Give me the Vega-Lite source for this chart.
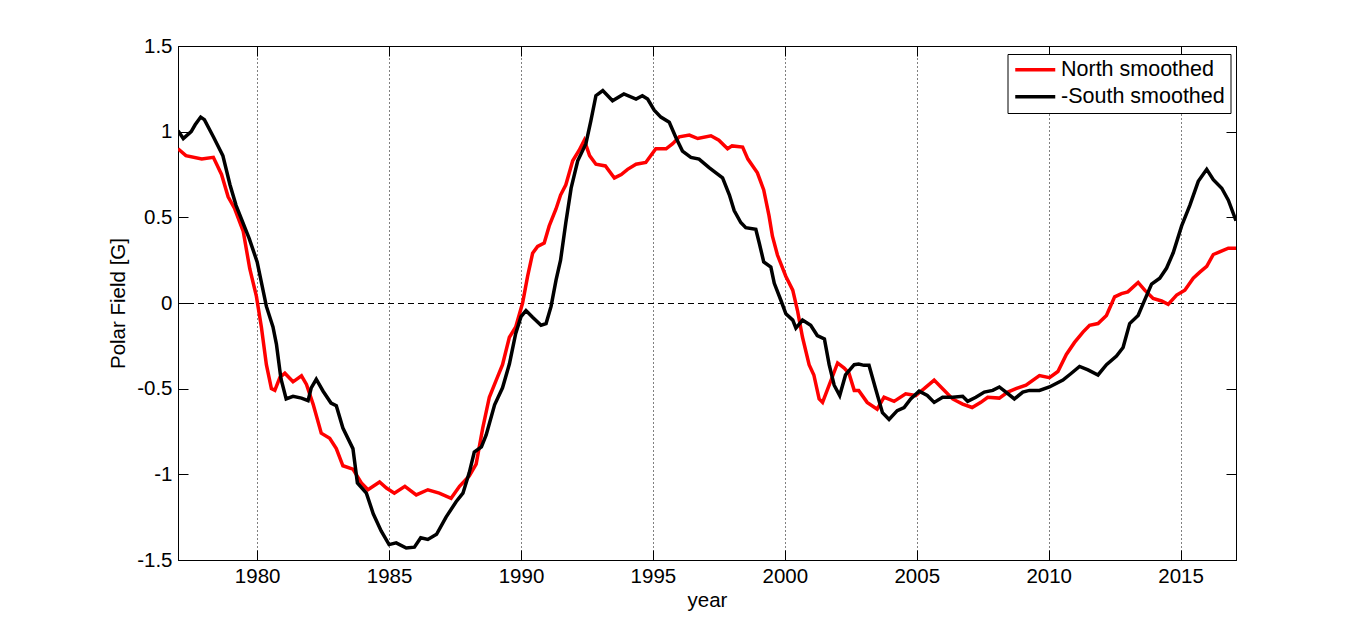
{
  "$schema": "https://vega.github.io/schema/vega-lite/v6.json",
  "width": 1058,
  "height": 514,
  "autosize": {"type": "none"},
  "padding": {"left": 178, "top": 46, "right": 131, "bottom": 69},
  "background": "white",
  "datasets": {
    "north": [
      {"year": 1977.0, "field": 0.90}, {"year": 1977.3, "field": 0.86}, {"year": 1977.9, "field": 0.84},
      {"year": 1978.34, "field": 0.85}, {"year": 1978.65, "field": 0.75}, {"year": 1978.9, "field": 0.62},
      {"year": 1979.15, "field": 0.55}, {"year": 1979.47, "field": 0.42}, {"year": 1979.72, "field": 0.20},
      {"year": 1979.97, "field": 0.04}, {"year": 1980.16, "field": -0.14}, {"year": 1980.35, "field": -0.36},
      {"year": 1980.54, "field": -0.50}, {"year": 1980.67, "field": -0.51}, {"year": 1980.86, "field": -0.435},
      {"year": 1981.05, "field": -0.41}, {"year": 1981.36, "field": -0.46}, {"year": 1981.68, "field": -0.425},
      {"year": 1981.87, "field": -0.475}, {"year": 1982.12, "field": -0.59}, {"year": 1982.43, "field": -0.76},
      {"year": 1982.75, "field": -0.79}, {"year": 1983.0, "field": -0.85}, {"year": 1983.25, "field": -0.95},
      {"year": 1983.63, "field": -0.97}, {"year": 1983.95, "field": -1.05}, {"year": 1984.2, "field": -1.09},
      {"year": 1984.64, "field": -1.045}, {"year": 1984.9, "field": -1.08}, {"year": 1985.2, "field": -1.11},
      {"year": 1985.6, "field": -1.07}, {"year": 1986.03, "field": -1.12}, {"year": 1986.47, "field": -1.09},
      {"year": 1986.9, "field": -1.11}, {"year": 1987.35, "field": -1.14}, {"year": 1987.67, "field": -1.07},
      {"year": 1988.04, "field": -1.01}, {"year": 1988.3, "field": -0.94}, {"year": 1988.55, "field": -0.73},
      {"year": 1988.8, "field": -0.55}, {"year": 1989.05, "field": -0.455}, {"year": 1989.3, "field": -0.36},
      {"year": 1989.56, "field": -0.20}, {"year": 1989.8, "field": -0.14}, {"year": 1990.06, "field": 0.0},
      {"year": 1990.25, "field": 0.155}, {"year": 1990.44, "field": 0.29}, {"year": 1990.63, "field": 0.33},
      {"year": 1990.88, "field": 0.35}, {"year": 1991.07, "field": 0.45}, {"year": 1991.33, "field": 0.55},
      {"year": 1991.5, "field": 0.63}, {"year": 1991.7, "field": 0.69}, {"year": 1991.96, "field": 0.83},
      {"year": 1992.2, "field": 0.89}, {"year": 1992.4, "field": 0.95}, {"year": 1992.6, "field": 0.86},
      {"year": 1992.84, "field": 0.81}, {"year": 1993.2, "field": 0.80}, {"year": 1993.54, "field": 0.73},
      {"year": 1993.8, "field": 0.75}, {"year": 1994.04, "field": 0.78}, {"year": 1994.36, "field": 0.81},
      {"year": 1994.73, "field": 0.82}, {"year": 1995.11, "field": 0.90}, {"year": 1995.5, "field": 0.90},
      {"year": 1995.75, "field": 0.93}, {"year": 1996.0, "field": 0.97}, {"year": 1996.38, "field": 0.98},
      {"year": 1996.7, "field": 0.96}, {"year": 1997.2, "field": 0.976}, {"year": 1997.5, "field": 0.95},
      {"year": 1997.83, "field": 0.90}, {"year": 1998.0, "field": 0.917}, {"year": 1998.4, "field": 0.91},
      {"year": 1998.6, "field": 0.84}, {"year": 1998.96, "field": 0.76}, {"year": 1999.2, "field": 0.66},
      {"year": 1999.4, "field": 0.51}, {"year": 1999.53, "field": 0.39}, {"year": 1999.72, "field": 0.28},
      {"year": 2000.04, "field": 0.155}, {"year": 2000.3, "field": 0.075}, {"year": 2000.48, "field": -0.044},
      {"year": 2000.67, "field": -0.20}, {"year": 2000.92, "field": -0.36}, {"year": 2001.1, "field": -0.42},
      {"year": 2001.3, "field": -0.56}, {"year": 2001.43, "field": -0.58}, {"year": 2001.68, "field": -0.48},
      {"year": 2002.0, "field": -0.35}, {"year": 2002.25, "field": -0.38}, {"year": 2002.43, "field": -0.41},
      {"year": 2002.63, "field": -0.51}, {"year": 2002.8, "field": -0.51}, {"year": 2003.12, "field": -0.58},
      {"year": 2003.5, "field": -0.62}, {"year": 2003.76, "field": -0.55}, {"year": 2004.14, "field": -0.574},
      {"year": 2004.58, "field": -0.53}, {"year": 2004.96, "field": -0.54}, {"year": 2005.28, "field": -0.50},
      {"year": 2005.66, "field": -0.45}, {"year": 2005.98, "field": -0.50}, {"year": 2006.36, "field": -0.56},
      {"year": 2006.74, "field": -0.59}, {"year": 2007.1, "field": -0.61}, {"year": 2007.43, "field": -0.58},
      {"year": 2007.69, "field": -0.55}, {"year": 2008.13, "field": -0.555}, {"year": 2008.45, "field": -0.52},
      {"year": 2008.76, "field": -0.50}, {"year": 2009.14, "field": -0.48}, {"year": 2009.65, "field": -0.424},
      {"year": 2010.03, "field": -0.436}, {"year": 2010.35, "field": -0.40}, {"year": 2010.67, "field": -0.30},
      {"year": 2010.98, "field": -0.23}, {"year": 2011.3, "field": -0.17}, {"year": 2011.55, "field": -0.13},
      {"year": 2011.87, "field": -0.12}, {"year": 2012.19, "field": -0.073}, {"year": 2012.5, "field": 0.036},
      {"year": 2012.76, "field": 0.055}, {"year": 2013.0, "field": 0.065}, {"year": 2013.39, "field": 0.12},
      {"year": 2013.64, "field": 0.075}, {"year": 2013.96, "field": 0.026}, {"year": 2014.28, "field": 0.012},
      {"year": 2014.53, "field": -0.008}, {"year": 2014.85, "field": 0.046}, {"year": 2015.16, "field": 0.075},
      {"year": 2015.48, "field": 0.145}, {"year": 2015.73, "field": 0.18}, {"year": 2015.99, "field": 0.214},
      {"year": 2016.24, "field": 0.283}, {"year": 2016.5, "field": 0.30}, {"year": 2016.81, "field": 0.32},
      {"year": 2017.1, "field": 0.32}
    ],
    "south": [
      {"year": 1977.0, "field": 1.006}, {"year": 1977.2, "field": 0.96}, {"year": 1977.5, "field": 1.0},
      {"year": 1977.65, "field": 1.04}, {"year": 1977.86, "field": 1.085}, {"year": 1978.0, "field": 1.07},
      {"year": 1978.34, "field": 0.97}, {"year": 1978.7, "field": 0.86}, {"year": 1978.97, "field": 0.69},
      {"year": 1979.2, "field": 0.57}, {"year": 1979.7, "field": 0.376}, {"year": 1980.0, "field": 0.24},
      {"year": 1980.35, "field": -0.02}, {"year": 1980.6, "field": -0.14}, {"year": 1980.73, "field": -0.24},
      {"year": 1980.9, "field": -0.44}, {"year": 1981.1, "field": -0.56}, {"year": 1981.36, "field": -0.545},
      {"year": 1981.68, "field": -0.555}, {"year": 1981.93, "field": -0.57}, {"year": 1982.05, "field": -0.495},
      {"year": 1982.24, "field": -0.445}, {"year": 1982.5, "field": -0.515}, {"year": 1982.8, "field": -0.584},
      {"year": 1983.0, "field": -0.60}, {"year": 1983.25, "field": -0.73}, {"year": 1983.63, "field": -0.85},
      {"year": 1983.8, "field": -1.05}, {"year": 1984.14, "field": -1.11}, {"year": 1984.4, "field": -1.23},
      {"year": 1984.7, "field": -1.33}, {"year": 1985.0, "field": -1.41}, {"year": 1985.27, "field": -1.40},
      {"year": 1985.65, "field": -1.43}, {"year": 1985.96, "field": -1.425}, {"year": 1986.2, "field": -1.37},
      {"year": 1986.47, "field": -1.38}, {"year": 1986.8, "field": -1.35}, {"year": 1987.16, "field": -1.25},
      {"year": 1987.54, "field": -1.16}, {"year": 1987.8, "field": -1.11}, {"year": 1988.04, "field": -0.99},
      {"year": 1988.23, "field": -0.87}, {"year": 1988.5, "field": -0.84}, {"year": 1988.68, "field": -0.77},
      {"year": 1989.0, "field": -0.594}, {"year": 1989.3, "field": -0.495}, {"year": 1989.56, "field": -0.356},
      {"year": 1989.8, "field": -0.178}, {"year": 1990.0, "field": -0.08}, {"year": 1990.19, "field": -0.044},
      {"year": 1990.44, "field": -0.083}, {"year": 1990.76, "field": -0.13}, {"year": 1990.95, "field": -0.12},
      {"year": 1991.14, "field": -0.02}, {"year": 1991.33, "field": 0.135}, {"year": 1991.5, "field": 0.25},
      {"year": 1991.7, "field": 0.47}, {"year": 1991.9, "field": 0.67}, {"year": 1992.15, "field": 0.83},
      {"year": 1992.46, "field": 0.93}, {"year": 1992.65, "field": 1.065}, {"year": 1992.84, "field": 1.21},
      {"year": 1993.1, "field": 1.24}, {"year": 1993.47, "field": 1.18}, {"year": 1993.9, "field": 1.22},
      {"year": 1994.36, "field": 1.19}, {"year": 1994.6, "field": 1.21}, {"year": 1994.8, "field": 1.19},
      {"year": 1995.05, "field": 1.125}, {"year": 1995.3, "field": 1.085}, {"year": 1995.62, "field": 1.055},
      {"year": 1995.87, "field": 0.966}, {"year": 1996.12, "field": 0.887}, {"year": 1996.44, "field": 0.85},
      {"year": 1996.75, "field": 0.84}, {"year": 1997.13, "field": 0.79}, {"year": 1997.39, "field": 0.76},
      {"year": 1997.64, "field": 0.73}, {"year": 1997.9, "field": 0.63}, {"year": 1998.08, "field": 0.54},
      {"year": 1998.33, "field": 0.47}, {"year": 1998.52, "field": 0.44}, {"year": 1998.9, "field": 0.43},
      {"year": 1999.03, "field": 0.35}, {"year": 1999.2, "field": 0.24}, {"year": 1999.47, "field": 0.21},
      {"year": 1999.6, "field": 0.115}, {"year": 1999.85, "field": 0.016}, {"year": 2000.04, "field": -0.063},
      {"year": 2000.3, "field": -0.10}, {"year": 2000.42, "field": -0.147}, {"year": 2000.67, "field": -0.10},
      {"year": 2000.98, "field": -0.13}, {"year": 2001.23, "field": -0.19}, {"year": 2001.5, "field": -0.21},
      {"year": 2001.68, "field": -0.36}, {"year": 2001.87, "field": -0.48}, {"year": 2002.08, "field": -0.54},
      {"year": 2002.3, "field": -0.42}, {"year": 2002.63, "field": -0.36}, {"year": 2002.8, "field": -0.356},
      {"year": 2003.0, "field": -0.364}, {"year": 2003.19, "field": -0.364}, {"year": 2003.44, "field": -0.50},
      {"year": 2003.7, "field": -0.64}, {"year": 2003.95, "field": -0.68}, {"year": 2004.26, "field": -0.628},
      {"year": 2004.52, "field": -0.61}, {"year": 2004.77, "field": -0.56}, {"year": 2005.09, "field": -0.515},
      {"year": 2005.4, "field": -0.54}, {"year": 2005.66, "field": -0.58}, {"year": 2005.98, "field": -0.55},
      {"year": 2006.36, "field": -0.55}, {"year": 2006.74, "field": -0.545}, {"year": 2006.93, "field": -0.574},
      {"year": 2007.24, "field": -0.55}, {"year": 2007.56, "field": -0.52}, {"year": 2007.88, "field": -0.51},
      {"year": 2008.13, "field": -0.49}, {"year": 2008.38, "field": -0.52}, {"year": 2008.7, "field": -0.56},
      {"year": 2009.02, "field": -0.52}, {"year": 2009.27, "field": -0.51}, {"year": 2009.65, "field": -0.51},
      {"year": 2010.03, "field": -0.49}, {"year": 2010.54, "field": -0.45}, {"year": 2010.86, "field": -0.41},
      {"year": 2011.17, "field": -0.37}, {"year": 2011.49, "field": -0.39}, {"year": 2011.87, "field": -0.42},
      {"year": 2012.19, "field": -0.36}, {"year": 2012.57, "field": -0.31}, {"year": 2012.82, "field": -0.26},
      {"year": 2013.07, "field": -0.12}, {"year": 2013.39, "field": -0.073}, {"year": 2013.58, "field": -0.004},
      {"year": 2013.9, "field": 0.11}, {"year": 2014.21, "field": 0.145}, {"year": 2014.47, "field": 0.204},
      {"year": 2014.72, "field": 0.293}, {"year": 2015.04, "field": 0.45}, {"year": 2015.35, "field": 0.57},
      {"year": 2015.67, "field": 0.71}, {"year": 2015.99, "field": 0.78}, {"year": 2016.24, "field": 0.72},
      {"year": 2016.56, "field": 0.67}, {"year": 2016.81, "field": 0.60}, {"year": 2017.1, "field": 0.48}
    ]
  },
  "layer": [
    {
      "data": {"values": [{"x0": 1977, "x1": 2017.1, "y0": 0}]},
      "mark": {"type": "rule", "color": "black", "strokeWidth": 1, "strokeDash": [6, 4], "yOffset": 0.5},
      "encoding": {
        "x": {
          "field": "x0", "type": "quantitative",
          "scale": {"domain": [1977, 2017.1], "nice": false, "zero": false},
          "axis": {"orient": "top", "labels": false, "grid": false, "title": null, "values": [1980, 1985, 1990, 1995, 2000, 2005, 2010, 2015]}
        },
        "x2": {"field": "x1"},
        "y": {
          "field": "y0", "type": "quantitative",
          "scale": {"domain": [-1.5, 1.5], "nice": false, "zero": false},
          "axis": {"orient": "right", "labels": false, "grid": false, "title": null, "values": [-1.5, -1, -0.5, 0, 0.5, 1, 1.5]}
        }
      }
    },
    {
      "layer": [
        {
          "data": {"name": "north"},
          "transform": [{"calculate": "'North smoothed'", "as": "series"}],
          "mark": {"type": "line", "strokeWidth": 3.5, "clip": true},
          "encoding": {
            "x": {
              "field": "year", "type": "quantitative",
              "scale": {"domain": [1977, 2017.1], "nice": false, "zero": false},
              "axis": {"orient": "bottom", "title": "year", "values": [1980, 1985, 1990, 1995, 2000, 2005, 2010, 2015], "grid": true, "format": "d"}
            },
            "y": {
              "field": "field", "type": "quantitative",
              "scale": {"domain": [-1.5, 1.5], "nice": false, "zero": false},
              "axis": {"orient": "left", "title": "Polar Field [G]", "values": [-1.5, -1, -0.5, 0, 0.5, 1, 1.5], "labelExpr": "datum.value + ''"}
            },
            "color": {
              "field": "series", "type": "nominal",
              "scale": {"domain": ["North smoothed", "-South smoothed"], "range": ["#ff0000", "#000000"]},
              "legend": {"orient": "none", "legendX": 829.5, "legendY": 8, "title": null}
            }
          }
        },
        {
          "data": {"name": "south"},
          "transform": [{"calculate": "'-South smoothed'", "as": "series"}],
          "mark": {"type": "line", "strokeWidth": 3.5, "clip": true},
          "encoding": {
            "x": {"field": "year", "type": "quantitative"},
            "y": {"field": "field", "type": "quantitative"},
            "color": {"field": "series", "type": "nominal"}
          }
        }
      ]
    }
  ],
  "resolve": {"axis": {"x": "independent", "y": "independent"}},
  "config": {
    "font": "Liberation Sans",
    "view": {"stroke": "black", "strokeWidth": 1},
    "axis": {
      "domain": true,
      "domainColor": "black",
      "tickColor": "black",
      "tickSize": -10,
      "labelPadding": 16,
      "labelFontSize": 20.5,
      "labelColor": "black",
      "labelFont": "Liberation Sans",
      "titleFont": "Liberation Sans",
      "titleFontSize": 20.5,
      "titleFontWeight": "normal",
      "titleColor": "black",
      "gridColor": "black",
      "gridDash": [1, 3],
      "gridOpacity": 1,
      "grid": false
    },
    "axisX": {"titlePadding": 4},
    "axisY": {"titlePadding": 8},
    "legend": {
      "fillColor": "white",
      "strokeColor": "black",
      "padding": 5,
      "symbolType": "M-1,0H4",
      "symbolSize": 256,
      "symbolStrokeWidth": 3.5,
      "labelFontSize": 21.5,
      "labelColor": "black",
      "labelFont": "Liberation Sans",
      "labelOffset": 27,
      "rowPadding": 4,
      "labelLimit": 400
    }
  }
}
